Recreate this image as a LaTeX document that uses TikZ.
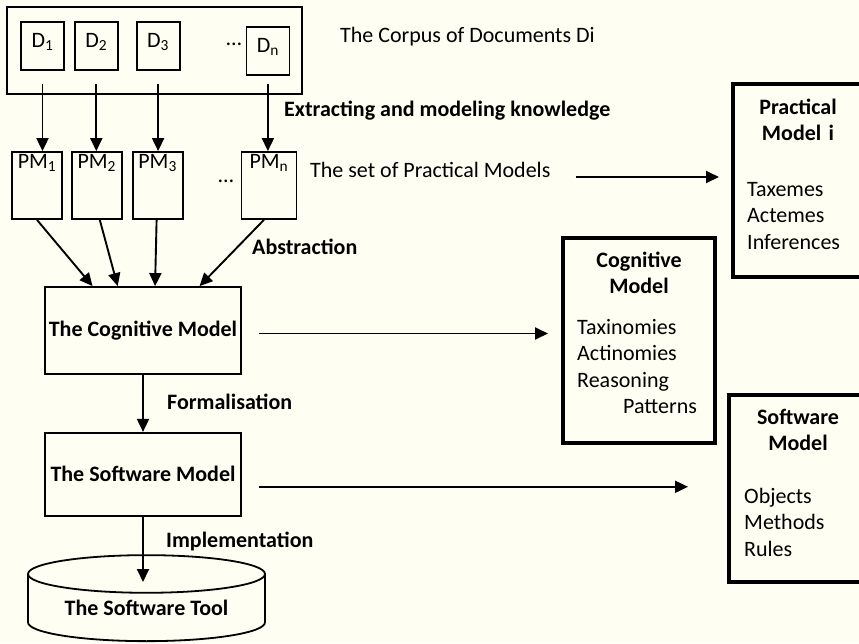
\documentclass[tikz,border=0pt]{standalone}
\usepackage{fontspec}
\setmainfont{Carlito}
\usepackage{tikz}
\usepackage{xcolor}
\usetikzlibrary{calc,positioning,arrows.meta,shapes.geometric}
\definecolor{paper}{RGB}{255,254,242}
\tikzset{
>={Triangle[length=13pt,width=12pt]},
}

\begin{document}
\begin{tikzpicture}[x=1pt,y=-1pt]
      \tikzset{
          every node/.style={inner sep=0pt, font=\fontsize{22}{26.5}\selectfont},
          frame/.style={rectangle, draw=black, line width=1.8pt},
          docbox/.style={frame, minimum width=43pt, text height=25pt, text depth=23pt},
          pmbox/.style={frame, minimum width=50pt, text height=16pt, text depth=51pt},
          modelbox/.style={frame, minimum width=196pt, font=\fontsize{22}{26.5}\selectfont\bfseries},
          toolbox/.style={cylinder, shape border rotate=90, draw=black, line width=1.8pt, aspect=0.23, minimum width=237pt, minimum height=86pt, font=\fontsize{22}{26.5}\selectfont\bfseries},
          bigbox/.style={rectangle, draw=black, line width=4pt},
          boxtitle/.style={anchor=base, text width=130pt, align=center, font=\fontsize{22}{26.5}\selectfont\bfseries},
          boxlist/.style={anchor=base west, text width=120pt, align=left},
          note/.style={anchor=base west},
          stepname/.style={anchor=base west, font=\fontsize{22}{26.5}\selectfont\bfseries},
          myarrow/.style={draw, ->, line width=1.9pt},
      }

      \useasboundingbox (0,0) rectangle (859,643);
      \fill[paper] (0,0) rectangle (859,643);

      % documents
      \node[frame, minimum width=295pt, minimum height=87pt] (corpus) at (154.5,50.5) {};
      \node[docbox] (D1) at (42.5,46) {D\textsubscript{1}};
      \node[docbox, right=9pt of D1] (D2) {D\textsubscript{2}};
      \node[docbox, right=17pt of D2] (D3) {D\textsubscript{3}};
      \node[docbox, right=65pt of D3, yshift=-5pt] (Dn) {D\textsubscript{n}};
      \node[anchor=base] (Ddots) at (234,45) {\ldots};
      \node[note] (corpusLabel) at (340,42) {The Corpus of Documents Di};

      % practical models
      \node[pmbox] (PM1) at (37,185.5) {PM\textsubscript{1}};
      \node[pmbox, right=8pt of PM1] (PM2) {PM\textsubscript{2}};
      \node[pmbox, right=9pt of PM2] (PM3) {PM\textsubscript{3}};
      \node[pmbox, minimum width=55pt, right=57pt of PM3] (PMn) {PM\textsubscript{n}};
      \node[anchor=base] (PMdots) at (226,182) {\ldots};
      \node[stepname] (extract) at (284,116) {Extracting and modeling knowledge};
      \node[note] (setPM) at (310,177) {The set of Practical Models};

      % cognitive and software models
      \node[modelbox, minimum height=87pt] (cog) at (143,330.5) {The Cognitive Model};
      \node[modelbox, minimum height=83pt, below=57pt of cog] (sw) {The Software Model};
      \node[toolbox] (tool) at (146.5,608) {The Software Tool};
      \node[stepname] (abstr) at (252,254) {Abstraction};
      \node[stepname] (formal) at (167,409) {Formalisation};
      \node[stepname] (impl) at (166,547) {Implementation};

      % boxes on the right
      \node[bigbox, minimum width=130pt, minimum height=193pt] (prac) at (798,180.5) {};
      \node[boxtitle] (pracTitle) at (798,114) {Practical\\Model i};
      \node[boxlist] (pracList) at (747,196) {Taxemes\\Actemes\\Inferences};
      \node[bigbox, minimum width=152pt, minimum height=205pt] (cogModel) at (639,340.5) {};
      \node[boxtitle] (cogTitle) at (639,267) {Cognitive\\Model};
      \node[boxlist] (cogList) at (577,334) {Taxinomies\\Actinomies\\Reasoning\\\hspace*{46pt}Patterns};
      \node[bigbox, minimum width=138pt, minimum height=187pt] (swModel) at (798,488.5) {};
      \node[boxtitle] (swTitle) at (798,424) {Software\\Model};
      \node[boxlist] (swList) at (744,503) {Objects\\Methods\\Rules};

      \path[myarrow] ([yshift=11pt]D1.south |- corpus.south) -- (D1.south |- PM1.north);
      \path[myarrow] ([yshift=11pt]D2.south |- corpus.south) -- (D2.south |- PM2.north);
      \path[myarrow] ([yshift=11pt]D3.south |- corpus.south) -- (D3.south |- PM3.north);
      \path[myarrow] ([yshift=11pt]Dn.south |- corpus.south) -- (Dn.south |- PMn.north);
      \path[myarrow] (PM1.south) -- ($(cog.north west)!0.245!(cog.north east)$);
      \path[myarrow] ([xshift=3pt]PM2.south) -- ($(cog.north west)!0.372!(cog.north east)$);
      \path[myarrow] ([xshift=-1pt]PM3.south) -- ($(cog.north west)!0.561!(cog.north east)$);
      \path[myarrow] ([xshift=-5pt]PMn.south) -- ($(cog.north west)!0.786!(cog.north east)$);
      \path[myarrow] (cog.south) -- (sw.north);
      \path[myarrow, shorten >=26pt] (sw.south) -- (sw.south |- tool.center);
      \path[myarrow] ([xshift=25pt]setPM.base east) -- ([xshift=-12pt]setPM.base east -| prac.west);
      \path[myarrow] ([xshift=17pt,yshift=-3pt]cog.east) -- ([xshift=-13pt,yshift=-3pt]cog.east -| cogModel.west);
      \path[myarrow] ([xshift=17pt,yshift=-12.5pt]sw.east) -- ([xshift=-39pt,yshift=-12.5pt]sw.east -| swModel.west);

\end{tikzpicture}
\end{document}
